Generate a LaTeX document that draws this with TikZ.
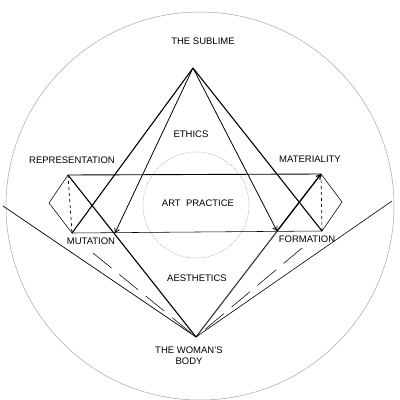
\documentclass[tikz,border=0pt]{standalone}
\usepackage{fontspec}
\setmainfont{Liberation Sans}
\usetikzlibrary{arrows.meta}
\begin{document}
\begin{tikzpicture}[x=1pt,y=-1pt,
  thickln/.style={line width=1.1pt,black},
  thinln/.style={line width=0.55pt,black},
  lbl/.style={font=\fontsize{9.5}{11}\selectfont,inner sep=0pt,align=center},
  arr/.style={-{Straight Barb[length=4pt,width=5pt]}}]
\useasboundingbox (0,0) rectangle (400,400);
\clip (0,0) rectangle (400,400);
\fill[white] (0,0) rectangle (400,400);
% circles
\draw[gray!70,line width=0.5pt] (200,206) circle[radius=194];
\draw[gray!80,line width=0.4pt,dash pattern=on 1pt off 1pt] (196,205) circle[radius=53];
% key points
\coordinate (S) at (193,68);
\coordinate (B) at (196,337);
\coordinate (RT) at (68,175);
\coordinate (RB) at (72,233);
\coordinate (RD) at (49,203);
\coordinate (MT) at (321,174);
\coordinate (MB) at (322,231);
\coordinate (MD) at (342,202);
\coordinate (MA) at (115,233);
\coordinate (FA) at (277,231);
\coordinate (L0) at (3,206);
\coordinate (R0) at (392,201);
\coordinate (LD) at (93,253);
\coordinate (RDd) at (302,248);
% horizontals
\draw[thickln,line width=0.9pt] (RT) -- (MT);
\draw[thinln] (RB) -- (MB);
% apex lines
\draw[thickln] (S) -- (RB);
\draw[thinln,line width=0.8pt,arr] (S) -- (MA);
\draw[thinln,line width=0.8pt,arr] (S) -- (FA);
\draw[thickln] (S) -- (MB);
% lines to body
\draw[thickln] (RT) -- (B);
\draw[thickln,gray!40!black] (B) -- (MT);
\draw[thickln,-{Straight Barb[length=4pt,width=5pt]}] (FA) -- (MT);
% dashed verticals
\draw[thinln,line width=0.7pt,dashed] (RT) -- (RB);
\draw[thinln,line width=0.7pt,dashed] (MT) -- (MB);
% diamonds
\draw[thinln] (RT) -- (RD) -- (RB);
\draw[thinln] (MT) -- (MD) -- (MB);
% outer V
\draw[thinln,line width=0.7pt] (L0) -- (B);
\draw[thinln,line width=0.6pt] (R0) -- (B);
% dashed converging lines
\draw[thinln,dash pattern=on 24pt off 10pt] (LD) -- (B);
\draw[thinln,dash pattern=on 24pt off 10pt] (RDd) -- (B);
% labels
\node[lbl] (sub) at (203,41) {THE SUBLIME};
\node[lbl] (eth) at (191,134) {ETHICS};
\node[lbl] (rep) at (72,160) {REPRESENTATION};
\node[lbl] (mat) at (310,159) {MATERIALITY};
\node[lbl] (art) at (198,203) {ART\ \ PRACTICE};
\node[lbl] (mut) at (91,241) {MUTATION};
\node[lbl] (for) at (307,239) {FORMATION};
\node[lbl] (aes) at (197,278) {AESTHETICS};
\node[lbl] (wom) at (189,356) {THE WOMAN'S\\BODY};
\end{tikzpicture}
\end{document}
